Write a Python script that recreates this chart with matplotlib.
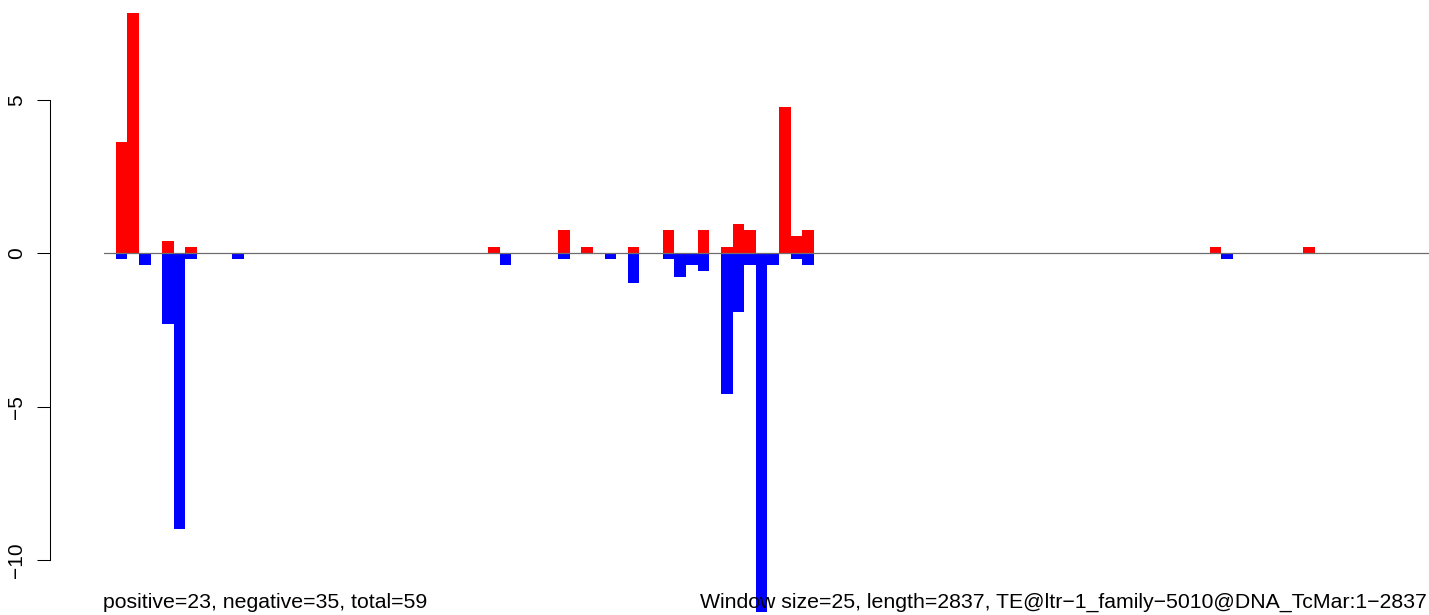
import matplotlib
matplotlib.use("Agg")
import matplotlib.pyplot as plt
import numpy as np

plt.rcParams['font.family'] = ['Liberation Sans', 'DejaVu Sans']

n_bins = 114
pos_bins = [1, 2, 5, 7, 33, 39, 41, 45, 48, 51, 53, 54, 55, 58, 59, 60, 95, 103]
pos_vals = [3.63, 7.83, 0.39, 0.195, 0.195, 0.76, 0.195, 0.195, 0.76, 0.76,
            0.195, 0.95, 0.76, 4.77, 0.56, 0.76, 0.195, 0.195]
neg_bins = [1, 3, 5, 6, 7, 11, 34, 39, 43, 45, 48, 49, 50, 51, 53, 54, 55, 56,
            57, 59, 60, 96]
neg_vals = [-0.19, -0.38, -2.29, -8.97, -0.19, -0.19, -0.38, -0.19, -0.19, -0.96,
            -0.19, -0.77, -0.38, -0.57, -4.57, -1.90, -0.38, -11.7,
            -0.38, -0.19, -0.38, -0.19]
y_ticks = [5, 0, -5, -10]
left_text = "positive=23, negative=35, total=59"
right_text = "Window size=25, length=2837, TE@ltr\u22121_family\u22125010@DNA_TcMar:1\u22122837"

W, H = 1429, 615
fig = plt.figure(figsize=(W / 100, H / 100), dpi=100)
ax = fig.add_axes([104 / W, 0, (W - 104) / W, 1])

ax.bar(pos_bins, pos_vals, width=1.0, align='edge', color='#ff0000', linewidth=0)
ax.bar(neg_bins, neg_vals, width=1.0, align='edge', color='#0000ff', linewidth=0)
ax.axhline(0, color='#6e6e6e', lw=0.9, zorder=5)

ax.set_xlim(0, (W - 104) / 11.64)
zero_px, unit_px = 253.3, 30.7
ax.set_ylim((zero_px - H) / unit_px, zero_px / unit_px)

for s in ['top', 'right', 'bottom']:
    ax.spines[s].set_visible(False)
ax.spines['left'].set_position(('outward', 54 * 0.72))
ax.spines['left'].set_bounds(-10, 5)
ax.spines['left'].set_linewidth(0.75)
ax.set_xticks([])
ax.set_yticks(y_ticks)
ax.set_yticklabels([str(t).replace('-', '\u2212') for t in y_ticks])
ax.tick_params(axis='y', length=9.4, width=0.75, pad=8, labelsize=15, labelrotation=90)
for lbl in ax.get_yticklabels():
    lbl.set_va('center')
ax.patch.set_visible(False)

fig.text(103 / W, (H - 608) / H, left_text, fontsize=15.3, ha='left', va='baseline')
fig.text(700 / W, (H - 608) / H, right_text, fontsize=15.3, ha='left', va='baseline')

fig.savefig('out.png', dpi=100)
